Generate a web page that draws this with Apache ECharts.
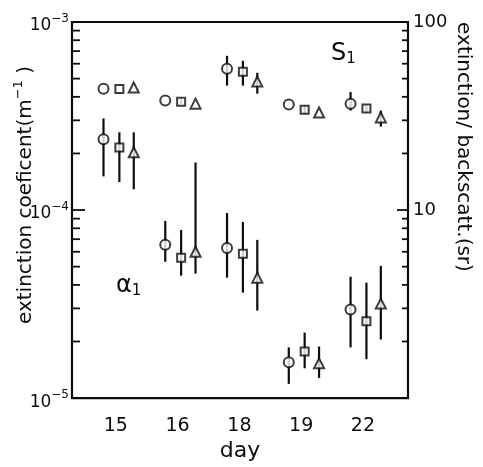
<!DOCTYPE html>
<html>
<head>
<meta charset="utf-8">
<script src="https://cdn.jsdelivr.net/npm/echarts@6/dist/echarts.min.js"></script>
<style>html,body{margin:0;padding:0;background:#fff}#c{width:483px;height:467px}</style>
</head>
<body>
<div id="c"></div>
<script>
// ---- data ----
const days = ['15', '16', '18', '19', '22'];

// S1 : extinction / backscatter ratio (sr), right axis
const s1CircleVal = [44.2, 38.2, 56.4, 36.4, 36.8];
const s1CircleLo  = [null, null, 45.9, null, 33.8];
const s1CircleHi  = [null, null, 66.1, null, 42.4];
const s1SquareVal = [44.0, 37.7, 54.4, 34.2, 34.7];
const s1SquareLo  = [null, 36.6, 45.9, 32.4, 33.0];
const s1SquareHi  = [null, 38.8, 62.2, 35.9, 35.9];
const s1TriVal    = [44.8, 36.8, 48.2, 33.0, 31.1];
const s1TriLo     = [null, null, 41.6, null, 27.8];
const s1TriHi     = [null, null, 53.7, null, 33.8];

// alpha1 : extinction coefficient (m^-1), left axis
const a1CircleVal = [2.38e-4, 6.53e-5, 6.29e-5, 1.55e-5, 2.96e-5];
const a1CircleLo  = [1.51e-4, 5.31e-5, 4.37e-5, 1.19e-5, 1.86e-5];
const a1CircleHi  = [3.07e-4, 8.75e-5, 9.64e-5, 1.86e-5, 4.42e-5];
const a1SquareVal = [2.15e-4, 5.57e-5, 5.85e-5, 1.77e-5, 2.56e-5];
const a1SquareLo  = [1.41e-4, 4.48e-5, 3.64e-5, 1.44e-5, 1.61e-5];
const a1SquareHi  = [2.59e-4, 7.84e-5, 8.64e-5, 2.23e-5, 4.11e-5];
const a1TriVal    = [2.03e-4, 6.00e-5, 4.37e-5, 1.53e-5, 3.18e-5];
const a1TriLo     = [1.29e-4, 4.59e-5, 2.92e-5, 1.28e-5, 2.05e-5];
const a1TriHi     = [2.59e-4, 1.79e-4, 6.94e-5, 1.88e-5, 5.05e-5];

// tick values
const leftMajorTicks = [1e-5, 1e-4, 1e-3];
const leftMinorTicks = [2e-5,3e-5,4e-5,5e-5,6e-5,7e-5,8e-5,9e-5,2e-4,3e-4,4e-4,5e-4,6e-4,7e-4,8e-4,9e-4];
const rightMajorTicks = [1, 10, 100];
const rightMinorTicks = [2,3,4,5,6,7,8,9,20,30,40,50,60,70,80,90];

// ---- layout / style constants ----
const X_MIN = -0.71, X_MAX = 4.73;
const OFFSETS = {circle: -0.2, rect: 0.057, triangle: 0.29};
const FONT = 'DejaVu Sans';
const INK = '#0d0d0d';

function pts(vals, off) { return vals.map((v, i) => [i + off, v]); }
function bars(lo, hi, off) {
  const out = [];
  lo.forEach((l, i) => { if (l != null && hi[i] != null) out.push([i + off, l, hi[i]]); });
  return out;
}
function errSeries(data, yIdx) {
  return {
    type: 'custom', xAxisIndex: 0, yAxisIndex: yIdx, z: 2, silent: true,
    encode: {x: 0, y: [1, 2]},
    data: data,
    renderItem: function (params, api) {
      const a = api.coord([api.value(0), api.value(1)]);
      const b = api.coord([api.value(0), api.value(2)]);
      return {type: 'line', shape: {x1: a[0], y1: a[1], x2: b[0], y2: b[1]},
        style: {stroke: INK, lineWidth: 2.2}};
    }
  };
}
function markSeries(data, yIdx, symbol, size) {
  return {
    type: 'scatter', xAxisIndex: 0, yAxisIndex: yIdx, z: 5, silent: true,
    symbol: symbol, symbolSize: size, data: data,
    itemStyle: {color: '#fff', borderColor: INK, borderWidth: 2}
  };
}
function tickSeries(major, minor, yIdx, side) {
  const data = major.map(v => [side === 'left' ? X_MIN : X_MAX, v, 1])
    .concat(minor.map(v => [side === 'left' ? X_MIN : X_MAX, v, 0]));
  return {
    type: 'custom', xAxisIndex: 0, yAxisIndex: yIdx, z: 3, silent: true, clip: false,
    encode: {x: 0, y: 1},
    data: data,
    renderItem: function (params, api) {
      const p = api.coord([api.value(0), api.value(1)]);
      const isMaj = api.value(2) === 1;
      const len = side === 'left' ? (isMaj ? 13 : 8) : (isMaj ? 11 : 6);
      const dir = side === 'left' ? 1 : -1;
      return {type: 'line', shape: {x1: p[0], y1: p[1], x2: p[0] + dir * len, y2: p[1]},
        style: {stroke: INK, lineWidth: 1.8}};
    }
  };
}

const chart = echarts.init(document.getElementById('c'), null, {renderer: 'canvas'});
const option = {
  animation: false,
  backgroundColor: '#fff',
  textStyle: {fontFamily: FONT, color: INK},
  grid: {left: 72, right: 75, top: 22, bottom: 67, show: true, borderColor: INK, borderWidth: 2.2, backgroundColor: 'transparent'},
  xAxis: {
    type: 'value', min: X_MIN, max: X_MAX,
    name: 'day', nameLocation: 'middle', nameGap: 40,
    nameTextStyle: {fontFamily: FONT, fontSize: 22, color: INK},
    axisLine: {show: false}, axisTick: {show: false}, splitLine: {show: false},
    axisLabel: {
      customValues: [0, 1, 2, 3, 4],
      formatter: v => days[Math.round(v)],
      margin: 18, fontFamily: FONT, fontSize: 19, color: INK
    }
  },
  yAxis: [
    {
      type: 'log', logBase: 10, min: 1e-5, max: 1e-3, position: 'left',
      axisLine: {show: false}, axisTick: {show: false}, splitLine: {show: false},
      axisLabel: {
        margin: 3,
        formatter: v => '{b|10}{s|−' + Math.abs(Math.round(Math.log10(v))) + '}',
        rich: {
          b: {fontFamily: FONT, fontSize: 17, color: INK, padding: [8, 0, 0, 0]},
          s: {fontFamily: FONT, fontSize: 12, color: INK, padding: [0, 0, 6, 0]}
        }
      }
    },
    {
      type: 'log', logBase: 10, min: 1, max: 100, position: 'right',
      axisLine: {show: false}, axisTick: {show: false}, splitLine: {show: false},
      axisLabel: {
        margin: 5, fontFamily: FONT, fontSize: 18, color: INK, padding: [9, 0, 0, 0],
        formatter: v => (v < 2 ? '' : String(Math.round(v)))
      }
    }
  ],
  graphic: [
    {type: 'text', x: 22, y: 195, rotation: Math.PI / 2, silent: true,
      style: {text: '{a|extinction coeficent(m}{s|−1}{a| )}', align: 'center', verticalAlign: 'middle',
        rich: {a: {fontFamily: FONT, fontSize: 20, fill: INK, padding: [7, 0, 0, 0]},
               s: {fontFamily: FONT, fontSize: 13, fill: INK, padding: [0, 0, 7, 0]}}}},
    {type: 'text', x: 463, y: 147, rotation: -Math.PI / 2, silent: true,
      style: {text: 'extinction/ backscatt.(sr)', align: 'center', verticalAlign: 'middle',
        fontFamily: FONT, fontSize: 20, fill: INK}},
    {type: 'text', x: 331, y: 40, silent: true,
      style: {text: '{a|S}{s|1}', rich: {a: {fontFamily: FONT, fontSize: 24, fill: INK},
        s: {fontFamily: FONT, fontSize: 15, fill: INK, padding: [12, 0, 0, 0]}}}},
    {type: 'text', x: 116, y: 272, silent: true,
      style: {text: '{a|α}{s|1}', rich: {a: {fontFamily: FONT, fontSize: 24, fill: INK},
        s: {fontFamily: FONT, fontSize: 15, fill: INK, padding: [12, 0, 0, 0]}}}}
  ],
  series: [
    tickSeries(leftMajorTicks, leftMinorTicks, 0, 'left'),
    tickSeries(rightMajorTicks, rightMinorTicks, 1, 'right'),
    errSeries(bars(s1CircleLo, s1CircleHi, OFFSETS.circle), 1),
    errSeries(bars(s1SquareLo, s1SquareHi, OFFSETS.rect), 1),
    errSeries(bars(s1TriLo, s1TriHi, OFFSETS.triangle), 1),
    errSeries(bars(a1CircleLo, a1CircleHi, OFFSETS.circle), 0),
    errSeries(bars(a1SquareLo, a1SquareHi, OFFSETS.rect), 0),
    errSeries(bars(a1TriLo, a1TriHi, OFFSETS.triangle), 0),
    markSeries(pts(s1CircleVal, OFFSETS.circle), 1, 'circle', 10),
    markSeries(pts(s1SquareVal, OFFSETS.rect), 1, 'rect', 8),
    markSeries(pts(s1TriVal, OFFSETS.triangle), 1, 'triangle', 10),
    markSeries(pts(a1CircleVal, OFFSETS.circle), 0, 'circle', 10),
    markSeries(pts(a1SquareVal, OFFSETS.rect), 0, 'rect', 8),
    markSeries(pts(a1TriVal, OFFSETS.triangle), 0, 'triangle', 10)
  ]
};
chart.setOption(option);
</script>
</body>
</html>
